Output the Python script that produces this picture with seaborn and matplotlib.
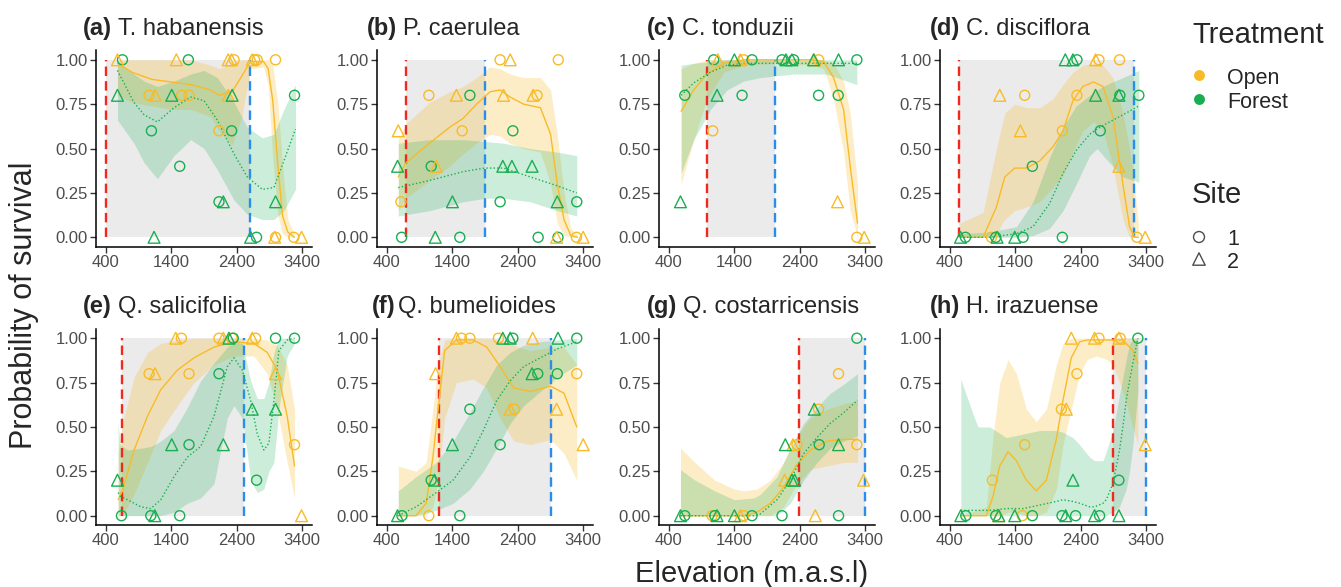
"""
Survival along the elevation gradient: 8 species, open vs forest treatment.
"""
import numpy as np
import pandas as pd
import matplotlib
matplotlib.use("Agg")
import matplotlib.pyplot as plt
import seaborn as sns

# ---------------------------------------------------------------- data
tags = ["(a)", "(b)", "(c)", "(d)", "(e)", "(f)", "(g)", "(h)"]
species = ["T. habanensis", "P. caerulea", "C. tonduzii", "C. disciflora",
           "Q. salicifolia", "Q. bumelioides", "Q. costarricensis", "H. irazuense"]
# natural elevation range of each species (red / blue dashed lines)
range_lo = [400, 693, 985, 542, 654, 1196, 2383, 2892]
range_hi = [2610, 1900, 2027, 3207, 2510, 2912, 3400, 3400]

# observed survival: (elevation, survival, treatment, site)
pts_a = [(578, 1, "Open", 2), (1061, .8, "Open", 1), (1153, .8, "Open", 2), (1478, 1, "Open", 2),
         (1559, .8, "Open", 1), (1671, .8, "Open", 1), (2270, 1, "Open", 2), (2320, 1, "Open", 2),
         (2360, 1, "Open", 1), (2270, .8, "Open", 2), (2129, .6, "Open", 1), (2637, 1, "Open", 2),
         (2673, 1, "Open", 1), (2713, 1, "Open", 1), (2993, 1, "Open", 1), (2993, 0, "Open", 1),
         (2980, 0, "Open", 2), (3273, 0, "Open", 1), (3390, 0, "Open", 2),
         (654, 1, "Forest", 1), (578, .8, "Forest", 2), (1661, 1, "Forest", 1), (1407, .8, "Forest", 2),
         (1097, .6, "Forest", 1), (1529, .4, "Forest", 1), (1137, 0, "Forest", 2), (2330, .8, "Forest", 2),
         (2322, .6, "Forest", 1), (2129, .2, "Forest", 1), (2195, .2, "Forest", 2), (2612, 0, "Forest", 2),
         (2703, 0, "Forest", 1), (2993, .2, "Forest", 2), (3283, .8, "Forest", 1)]
pts_b = [(575, .6, "Open", 2), (616, .2, "Open", 1), (1042, .8, "Open", 1), (1155, .4, "Open", 2),
         (1463, .8, "Open", 2), (1551, .6, "Open", 1), (2131, 1, "Open", 1), (2285, 1, "Open", 2),
         (2183, .8, "Open", 2), (2635, .8, "Open", 2), (2696, .8, "Open", 1), (3020, 1, "Open", 1),
         (2994, 0, "Open", 2), (3297, 0, "Open", 1), (3400, 0, "Open", 2),
         (564, .4, "Forest", 2), (626, 0, "Forest", 1), (1078, .4, "Forest", 1), (1140, 0, "Forest", 2),
         (1669, .8, "Forest", 1), (1402, .2, "Forest", 2), (1515, 0, "Forest", 1), (2326, .6, "Forest", 1),
         (2172, .4, "Forest", 2), (2311, .4, "Forest", 2), (2131, .2, "Forest", 1), (2619, .4, "Forest", 2),
         (2712, 0, "Forest", 1), (3004, .2, "Forest", 2), (3015, 0, "Forest", 1), (3302, .2, "Forest", 1)]
pts_c = [(1071, .6, "Open", 1), (1147, 1, "Open", 2), (1493, 1, "Open", 2), (1544, 1, "Open", 1),
         (2622, 1, "Open", 2), (2688, 1, "Open", 1), (2978, .2, "Open", 2), (3273, 0, "Open", 1),
         (3385, 0, "Open", 2),
         (578, .2, "Forest", 2), (644, .8, "Forest", 1), (1086, 1, "Forest", 1), (1137, .8, "Forest", 2),
         (1402, 1, "Forest", 2), (1671, 1, "Forest", 1), (1519, .8, "Forest", 1), (2129, 1, "Forest", 1),
         (2190, 1, "Forest", 2), (2281, 1, "Forest", 2), (2307, 1, "Forest", 1), (2612, 1, "Forest", 2),
         (2688, .8, "Forest", 1), (2993, 1, "Forest", 2), (2988, .8, "Forest", 1), (3273, 1, "Forest", 1)]
pts_d = [(1036, 0, "Open", 1), (1163, .8, "Open", 2), (1544, .8, "Open", 1), (1478, .6, "Open", 2),
         (2119, .6, "Open", 1), (2342, .8, "Open", 1), (2627, 1, "Open", 2), (2678, 1, "Open", 1),
         (2993, 1, "Open", 1), (2983, .4, "Open", 2), (3258, 0, "Open", 1), (3385, 0, "Open", 2),
         (563, 0, "Forest", 2), (639, 0, "Forest", 1), (1102, 0, "Forest", 1), (1122, 0, "Forest", 2),
         (1392, 0, "Forest", 2), (1519, 0, "Forest", 1), (1661, .4, "Forest", 1), (2119, 0, "Forest", 1),
         (2164, 1, "Forest", 2), (2281, 1, "Forest", 2), (2342, 1, "Forest", 1), (2627, .8, "Forest", 2),
         (2698, .6, "Forest", 1), (2983, .8, "Forest", 2), (2998, .8, "Forest", 1), (3288, .8, "Forest", 1)]
pts_e = [(1061, .8, "Open", 1), (1153, .8, "Open", 2), (1468, 1, "Open", 2), (1554, 1, "Open", 1),
         (1671, .8, "Open", 1), (2129, 1, "Open", 1), (2195, 1, "Open", 2), (2330, 1, "Open", 1),
         (2637, 1, "Open", 2), (2688, 1, "Open", 1), (2993, .8, "Open", 2), (3283, .4, "Open", 1),
         (3390, 0, "Open", 2),
         (578, .2, "Forest", 2), (639, 0, "Forest", 1), (1087, 0, "Forest", 1), (1148, 0, "Forest", 2),
         (1407, .4, "Forest", 2), (1671, .4, "Forest", 1), (1529, 0, "Forest", 1), (2281, 1, "Forest", 2),
         (2347, 1, "Forest", 1), (2129, .8, "Forest", 1), (2195, .4, "Forest", 2), (2637, .6, "Forest", 2),
         (2703, .2, "Forest", 1), (2993, 1, "Forest", 1), (2993, .6, "Forest", 2), (3283, 1, "Forest", 1)]
pts_f = [(1042, 0, "Open", 1), (1145, .8, "Open", 2), (1463, 1, "Open", 2), (1540, 1, "Open", 1),
         (1669, 1, "Open", 1), (2105, 1, "Open", 1), (2285, .6, "Open", 2), (2352, .6, "Open", 1),
         (2629, 1, "Open", 2), (2994, .6, "Open", 2), (3302, .8, "Open", 1), (3400, .4, "Open", 2),
         (564, 0, "Forest", 2), (631, 0, "Forest", 1), (1078, .2, "Forest", 1), (1129, .2, "Forest", 2),
         (1402, .4, "Forest", 2), (1515, 0, "Forest", 1), (1669, .6, "Forest", 1), (2172, 1, "Forest", 2),
         (2285, 1, "Forest", 2), (2326, 1, "Forest", 1), (2131, .4, "Forest", 1), (2619, .8, "Forest", 2),
         (2706, .8, "Forest", 1), (3015, 1, "Forest", 2), (3004, .8, "Forest", 1), (3302, 1, "Forest", 1)]
pts_g = [(1061, 0, "Open", 1), (1493, 0, "Open", 2), (1544, 0, "Open", 1), (2297, .4, "Open", 2),
         (2358, .4, "Open", 1), (2170, .2, "Open", 2), (2688, .6, "Open", 1), (2637, 0, "Open", 2),
         (2993, .8, "Open", 1), (3273, .4, "Open", 1), (3375, .2, "Open", 2),
         (578, 0, "Forest", 2), (644, 0, "Forest", 1), (1102, 0, "Forest", 1), (1137, 0, "Forest", 2),
         (1402, 0, "Forest", 2), (1671, 0, "Forest", 1), (2129, 0, "Forest", 1), (2180, .4, "Forest", 2),
         (2281, .2, "Forest", 2), (2322, .2, "Forest", 2), (2622, .6, "Forest", 2), (2698, .4, "Forest", 1),
         (2993, .4, "Forest", 2), (2993, 0, "Forest", 1), (3273, 1, "Forest", 1)]
pts_h = [(1051, .2, "Open", 1), (1148, 0, "Open", 2), (1508, 0, "Open", 1), (1544, .4, "Open", 1),
         (2104, .6, "Open", 1), (2180, .6, "Open", 2), (2342, .8, "Open", 1), (2256, 1, "Open", 2),
         (2612, 1, "Open", 2), (2678, 1, "Open", 1), (2983, 1, "Open", 2), (3003, 1, "Open", 1),
         (3385, .4, "Open", 2),
         (568, 0, "Forest", 2), (644, 0, "Forest", 1), (1102, 0, "Forest", 1), (1148, 0, "Forest", 2),
         (1392, 0, "Forest", 2), (1661, 0, "Forest", 1), (2114, 0, "Forest", 1), (2170, 0, "Forest", 2),
         (2322, 0, "Forest", 1), (2281, .2, "Forest", 2), (2612, 0, "Forest", 2), (2688, 0, "Forest", 1),
         (2983, .2, "Forest", 1), (2983, 0, "Forest", 2), (3273, 1, "Forest", 1)]

# fitted smooths: (elevation, fit, lower, upper)
open_a = [(578, .98, .80, 1), (800, .93, .76, 1), (1100, .89, .74, 1), (1400, .875, .72, 1),
          (1700, .86, .72, 1), (2000, .83, .68, .97), (2130, .80, .60, .95), (2330, .82, .52, .98),
          (2480, .91, .68, 1), (2610, .99, .95, 1), (2810, .99, .96, 1), (2880, .95, .86, 1),
          (2950, .77, .45, .97), (3030, .40, .12, .75), (3100, .12, .02, .40), (3180, .03, 0, .10),
          (3280, 0, 0, .02)]
forest_a = [(578, .94, .66, .99), (830, .76, .53, .92), (985, .69, .42, .88), (1188, .65, .33, .85),
            (1442, .73, .46, .88), (1697, .79, .55, .92), (1900, .77, .50, .94), (2104, .66, .38, .90),
            (2358, .47, .21, .76), (2561, .34, .13, .62), (2790, .27, .10, .56), (2968, .28, .10, .58),
            (3120, .43, .15, .72), (3298, .61, .27, .86)]
open_b = [(575, .34, .15, .55), (693, .42, .22, .64), (1052, .53, .32, .76), (1360, .62, .40, .82),
          (1566, .67, .47, .85), (1771, .75, .53, .90), (1977, .82, .58, .96), (2131, .83, .57, .95),
          (2285, .79, .53, .92), (2490, .75, .50, .90), (2747, .73, .48, .90), (2902, .58, .30, .83),
          (3004, .30, .08, .58), (3107, .10, .01, .25), (3210, .01, 0, .05), (3313, 0, 0, .01)]
forest_b = [(575, .28, .12, .53), (1052, .32, .15, .55), (1566, .37, .20, .55), (1900, .39, .22, .54),
            (2183, .39, .22, .53), (2593, .34, .20, .50), (3004, .29, .15, .48), (3302, .25, .12, .46)]
open_c = [(588, .71, .30, .95), (781, .83, .55, .98), (985, .92, .78, 1), (1239, .98, .93, 1),
          (1544, 1, .97, 1), (2000, 1, .98, 1), (2600, 1, .97, 1), (2765, .99, .95, 1),
          (2917, .90, .78, .98), (3070, .72, .48, .88), (3171, .40, .15, .70), (3283, .08, 0, .30)]
forest_c = [(588, .80, .36, .97), (781, .87, .55, .98), (1036, .93, .72, .99), (1290, .97, .83, 1),
            (1544, .98, .88, 1), (1798, .98, .90, 1), (2307, .98, .92, 1), (2815, .98, .92, 1),
            (3273, .98, .86, 1)]
open_d = [(553, 0, 0, .08), (908, 0, 0, .14), (1112, .17, .02, .50), (1239, .34, .10, .70),
          (1392, .39, .15, .75), (1570, .39, .17, .73), (1773, .43, .20, .73), (1976, .51, .28, .78),
          (2129, .60, .35, .86), (2281, .77, .48, .93), (2434, .85, .60, .97), (2597, .875, .65, .98),
          (2739, .85, .60, .97), (2892, .68, .40, .90), (3044, .30, .10, .70), (3146, .06, 0, .50),
          (3222, 0, 0, .30), (3280, 0, 0, .08)]
forest_d = [(553, 0, 0, .02), (1010, 0, 0, .03), (1417, .02, 0, .06), (1671, .06, .01, .20),
            (1925, .19, .05, .45), (2129, .36, .15, .62), (2332, .49, .30, .74), (2536, .58, .46, .80),
            (2650, .61, .50, .83), (2790, .64, .44, .86), (3044, .69, .34, .90), (3288, .74, .31, .94)]
open_e = [(588, .09, 0, .35), (654, .14, 0, .52), (832, .37, .12, .78), (1036, .56, .30, .92),
          (1239, .71, .48, .97), (1493, .82, .62, .99), (1748, .89, .75, 1), (2053, .95, .85, 1),
          (2358, .98, .90, 1), (2663, .97, .90, 1), (2866, .92, .80, .99), (3019, .82, .60, .96),
          (3171, .56, .30, .85), (3283, .28, .10, .60)]
forest_e = [(588, .13, 0, .52), (620, .11, 0, .40), (731, .09, 0, .37), (934, .05, 0, .38),
            (1087, .04, 0, .39), (1239, .09, 0, .42), (1442, .22, .02, .48), (1646, .33, .07, .61),
            (1849, .39, .10, .76), (2053, .56, .18, .86), (2256, .84, .55, .95), (2358, .89, .62, .98),
            (2485, .82, .55, .97), (2560, .72, .35, .85), (2612, .65, .20, .76), (2714, .46, .13, .66),
            (2815, .37, .15, .66), (2892, .41, .25, .75), (2968, .65, .30, .92), (3044, .93, .60, 1),
            (3171, .99, .90, 1), (3283, 1, .97, 1)]
open_f = [(575, 0, 0, .28), (847, 0, 0, .25), (1001, .07, 0, .30), (1104, .33, .05, .60),
          (1181, .59, .20, .85), (1284, .93, .55, .99), (1463, .99, .75, 1), (1720, .99, .77, 1),
          (1926, .95, .72, 1), (2131, .84, .55, .99), (2337, .72, .42, .96), (2593, .70, .40, .93),
          (2902, .73, .43, .95), (3107, .69, .35, .95), (3302, .50, .20, .85)]
forest_f = [(575, 0, 0, .14), (847, .05, 0, .22), (1155, .13, .03, .30), (1412, .20, .07, .42),
            (1669, .33, .15, .58), (1874, .48, .25, .72), (2080, .65, .38, .85), (2285, .76, .52, .92),
            (2491, .84, .62, .96), (2747, .89, .70, .98), (3004, .94, .78, .99), (3302, .98, .85, 1)]
open_g = [(578, 0, 0, .38), (800, 0, 0, .30), (1100, 0, 0, .20), (1400, 0, 0, .15),
          (1544, 0, 0, .14), (1748, .02, 0, .15), (1951, .07, 0, .20), (2154, .16, .05, .30),
          (2358, .29, .18, .45), (2561, .37, .26, .55), (2815, .42, .28, .60), (3070, .43, .30, .63),
          (3283, .43, .30, .65)]
forest_g = [(578, 0, 0, .26), (800, 0, 0, .20), (1100, 0, 0, .14), (1400, 0, 0, .09),
            (1700, 0, 0, .10), (1798, .01, 0, .12), (2053, .09, 0, .22), (2256, .20, .07, .38),
            (2460, .35, .20, .52), (2663, .44, .30, .61), (2866, .52, .38, .69), (3070, .58, .42, .74),
            (3283, .65, .45, .80)]
open_h = [(568, 0, 0, 0), (959, 0, 0, .05), (1061, .11, 0, .45), (1163, .28, 0, .75),
          (1290, .36, .02, .88), (1417, .31, .02, .80), (1570, .20, 0, .60), (1722, .14, 0, .53),
          (1875, .20, .02, .60), (2027, .43, .15, .85), (2129, .65, .40, .97), (2256, .89, .60, 1),
          (2383, .98, .80, 1), (2500, .99, .88, 1), (2637, .99, .90, 1), (2800, .99, .88, 1),
          (2892, .99, .85, 1), (3044, .99, .70, 1), (3197, .93, .50, 1), (3273, .86, .40, 1)]
forest_h = [(568, .03, 0, .77), (756, .03, 0, .57), (832, .03, 0, .50), (1010, .03, 0, .50),
            (1264, .04, 0, .44), (1519, .04, 0, .46), (1773, .06, 0, .48), (2027, .08, 0, .48),
            (2129, .09, 0, .47), (2281, .08, 0, .44), (2383, .07, 0, .40), (2536, .05, 0, .33),
            (2612, .05, 0, .31), (2739, .07, 0, .31), (2790, .09, 0, .36), (2892, .18, .02, .48),
            (2993, .37, .05, .68), (3044, .50, .10, .78), (3095, .65, .15, .88), (3146, .76, .25, .97),
            (3197, .86, .40, .99), (3273, 1, .70, 1)]

all_pts = [pts_a, pts_b, pts_c, pts_d, pts_e, pts_f, pts_g, pts_h]
all_open = [open_a, open_b, open_c, open_d, open_e, open_f, open_g, open_h]
all_forest = [forest_a, forest_b, forest_c, forest_d, forest_e, forest_f, forest_g, forest_h]

# ---------------------------------------------------------------- style
sns.set_style("ticks")
plt.rcParams["font.family"] = ["Liberation Sans", "DejaVu Sans"]

OPEN = "#F8BB28"
FOREST = "#19AE52"
PAL = {"Open": OPEN, "Forest": FOREST}
MARKER = {1: "o", 2: "^"}
MSIZE = {1: 52, 2: 72}
RED = "#EE2A1E"
BLUE = "#2B8CEA"
RECT = "#EBEBEB"
TICK_TXT = "#4D4D4D"

W, H = 1341, 587
fig = plt.figure(figsize=(W / 100, H / 100), dpi=100)

panel_left = [96, 377, 659, 940]
panel_w = 216
row_top = [50.4, 328.8]
row_h = 196.3
title_x = [83, 367, 647, 930, 83, 372, 647, 930]
title_base = [35, 313]


def px_axes(left, top, w, h):
    return fig.add_axes([left / W, 1 - (top + h) / H, w / W, h / H])


for i in range(8):
    r, c = divmod(i, 4)
    ax = px_axes(panel_left[c], row_top[r], panel_w, row_h)

    # gray band of the natural range
    ax.fill_between([range_lo[i], range_hi[i]], 0, 1, color=RECT, lw=0, zorder=1)

    # ribbons and fitted lines
    for tbl, col, ls, alpha in [(all_open[i], OPEN, "-", 0.26),
                                (all_forest[i], FOREST, (0, (1, 1.6)), 0.22)]:
        cdf = pd.DataFrame(tbl, columns=["elev", "fit", "lo", "hi"])
        ax.fill_between(cdf["elev"], cdf["lo"], cdf["hi"], color=col, alpha=alpha, lw=0, zorder=2)
        sns.lineplot(data=cdf, x="elev", y="fit", color=col, lw=1.0, linestyle=ls,
                     ax=ax, zorder=4, sort=True)

    ax.vlines(range_lo[i], 0, 1, color=RED, lw=1.7, linestyles=(0, (4, 2.2)), zorder=3)
    ax.vlines(range_hi[i], 0, 1, color=BLUE, lw=1.7, linestyles=(0, (4, 2.2)), zorder=3)

    # observed points, hollow symbols (one call per site so triangles can be larger)
    pdf = pd.DataFrame(all_pts[i], columns=["elev", "surv", "treatment", "site"])
    for site in (1, 2):
        sub = pdf[pdf["site"] == site]
        sns.scatterplot(data=sub, x="elev", y="surv", hue="treatment",
                        palette=PAL, hue_order=["Open", "Forest"], marker=MARKER[site],
                        s=MSIZE[site], linewidth=1.0, legend=False, ax=ax, zorder=5)
        coll = ax.collections[-1]
        coll.set_edgecolors(coll.get_facecolors())
        coll.set_facecolors("none")

    ax.set_xlim(250, 3550)
    ax.set_ylim(-0.053, 1.053)
    ax.set_xticks([400, 1400, 2400, 3400])
    ax.set_yticks([0, 0.25, 0.5, 0.75, 1.0])
    ax.set_yticklabels(["0.00", "0.25", "0.50", "0.75", "1.00"])
    ax.set_xlabel("")
    ax.set_ylabel("")
    sns.despine(ax=ax)
    for s in ["left", "bottom"]:
        ax.spines[s].set_linewidth(1.1)
        ax.spines[s].set_color("black")
    ax.tick_params(length=4, width=1.0, color="#333333", labelcolor=TICK_TXT,
                   labelsize=12, pad=2)

# titles: bold tag followed by species name
fig.canvas.draw()
renderer = fig.canvas.get_renderer()
for i in range(8):
    r = i // 4
    y = 1 - title_base[r] / H
    t = fig.text(title_x[i] / W, y, tags[i], fontsize=17, fontweight="bold", va="baseline")
    bb = t.get_window_extent(renderer)
    gap = 2 if tags[i] == "(f)" else 6
    fig.text((bb.x1 + gap) / W, y, species[i], fontsize=17, va="baseline")

fig.text(24 / W, 1 - 305 / H, "Probability of survival", fontsize=22,
         rotation=90, ha="center", va="center")
fig.text(752 / W, 1 - 582 / H, "Elevation (m.a.s.l)", fontsize=21,
         ha="center", va="baseline")

# legends, drawn on an overlay in pixel coordinates
lg = fig.add_axes([0, 0, 1, 1], zorder=10)
lg.set_xlim(0, W)
lg.set_ylim(H, 0)
lg.axis("off")
lg.patch.set_alpha(0)
lg.text(1192, 43, "Treatment", fontsize=21, va="baseline")
lg.scatter([1199], [75], s=62, color=OPEN, lw=0)
lg.scatter([1199], [99], s=62, color=FOREST, lw=0)
lg.text(1227, 84, "Open", fontsize=15.5, va="baseline")
lg.text(1227, 108, "Forest", fontsize=15.5, va="baseline")
lg.text(1192, 203, "Site", fontsize=21, va="baseline")
lg.scatter([1199], [237], s=62, marker="o", facecolors="none", edgecolors=TICK_TXT, lw=1.0)
lg.scatter([1199], [259], s=80, marker="^", facecolors="none", edgecolors=TICK_TXT, lw=1.0)
lg.text(1227, 245, "1", fontsize=15.5, va="baseline")
lg.text(1227, 268, "2", fontsize=15.5, va="baseline")

fig.savefig("out.png", dpi=100)
